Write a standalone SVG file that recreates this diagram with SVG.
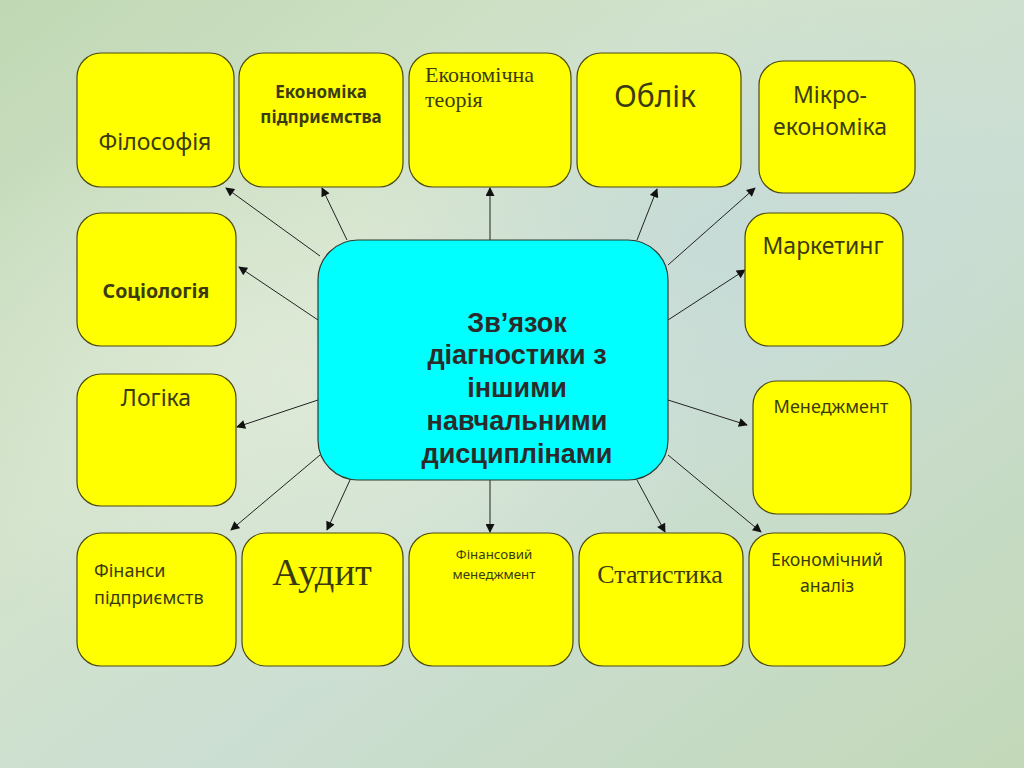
<svg xmlns="http://www.w3.org/2000/svg" width="1024" height="768" viewBox="0 0 1024 768">
<defs>
<linearGradient id="bg" x1="0" y1="0" x2="1" y2="1">
<stop offset="0" stop-color="#c0d8b4"/>
<stop offset="0.35" stop-color="#d3e3cb"/>
<stop offset="0.6" stop-color="#cbded2"/>
<stop offset="1" stop-color="#c2d8b8"/>
</linearGradient>
<radialGradient id="spot1" cx="0.3" cy="0.5" r="0.4">
<stop offset="0" stop-color="#e3eddc" stop-opacity="0.7"/>
<stop offset="1" stop-color="#e3eddc" stop-opacity="0"/>
</radialGradient>
<radialGradient id="spot2" cx="0.7" cy="0.3" r="0.35">
<stop offset="0" stop-color="#c2d9dd" stop-opacity="0.6"/>
<stop offset="1" stop-color="#c2d9dd" stop-opacity="0"/>
</radialGradient>
<marker id="arr" viewBox="0 0 10 10" refX="9" refY="5" markerWidth="10" markerHeight="9" markerUnits="userSpaceOnUse" orient="auto">
<path d="M0,0 L10,5 L0,10 z" fill="#111"/>
</marker>
<style>
.box{fill:#ffff00;stroke:#4a4a12;stroke-width:1.2}
.ctr{fill:#00ffff;stroke:#2f3a2f;stroke-width:1.2}
.t{fill:#3b3b10;font-family:"Noto Sans","Open Sans","DejaVu Sans",sans-serif}
.s{fill:#3b3b10;font-family:"Liberation Serif","DejaVu Serif",serif}
.b{font-weight:bold}
.c{text-anchor:middle}
.ct{fill:#2b2b2b;font-family:"Liberation Sans",Arial,sans-serif;font-weight:bold;font-size:27px;text-anchor:middle}
.ln{stroke:#222;stroke-width:1;marker-end:url(#arr);fill:none}
</style>
</defs>
<rect width="1024" height="768" fill="url(#bg)"/>
<rect width="1024" height="768" fill="url(#spot1)"/>
<rect width="1024" height="768" fill="url(#spot2)"/>

<g id="connectors">
<line class="ln" x1="320" y1="256" x2="226" y2="188"/>
<line class="ln" x1="347" y1="240" x2="322" y2="188"/>
<line class="ln" x1="490" y1="240" x2="490" y2="188"/>
<line class="ln" x1="637" y1="240" x2="657" y2="189"/>
<line class="ln" x1="668" y1="265" x2="755" y2="188"/>
<line class="ln" x1="318" y1="320" x2="239" y2="267"/>
<line class="ln" x1="668" y1="320" x2="745" y2="270"/>
<line class="ln" x1="318" y1="400" x2="237" y2="427"/>
<line class="ln" x1="668" y1="400" x2="747" y2="425"/>
<line class="ln" x1="320" y1="455" x2="231" y2="530"/>
<line class="ln" x1="350" y1="480" x2="327" y2="530"/>
<line class="ln" x1="490" y1="480" x2="490" y2="532"/>
<line class="ln" x1="637" y1="480" x2="665" y2="532"/>
<line class="ln" x1="668" y1="455" x2="761" y2="532"/>
</g>

<g id="center">
<rect class="ctr" x="318" y="240" width="350" height="240" rx="40"/>
<text class="ct" x="517" y="332">Зв’язок</text>
<text class="ct" x="517" y="364">діагностики з</text>
<text class="ct" x="517" y="397">іншими</text>
<text class="ct" x="517" y="430">навчальними</text>
<text class="ct" x="517" y="463">дисциплінами</text>
</g>

<g id="filosofiya">
<rect class="box" x="77" y="53" width="157" height="134" rx="24"/>
<text class="t c" x="155" y="150" font-size="23">Філософія</text>
</g>
<g id="ekonomika-pidpryiemstva">
<rect class="box" x="239" y="53" width="164" height="134" rx="24"/>
<text class="t b c" x="321" y="98" font-size="17">Економіка</text>
<text class="t b c" x="321" y="123" font-size="17">підприємства</text>
</g>
<g id="ekonomichna-teoriya">
<rect class="box" x="409" y="53" width="162" height="134" rx="24"/>
<text class="s" x="425" y="82" font-size="22">Економічна</text>
<text class="s" x="425" y="107" font-size="22">теорія</text>
</g>
<g id="oblik">
<rect class="box" x="577" y="53" width="164" height="134" rx="24"/>
<text class="t c" x="655" y="107" font-size="30">Облік</text>
</g>
<g id="mikroekonomika">
<rect class="box" x="759" y="61" width="156" height="132" rx="24"/>
<text class="t c" x="830" y="103" font-size="23">Мікро-</text>
<text class="t c" x="830" y="135" font-size="23">економіка</text>
</g>
<g id="sotsiolohiya">
<rect class="box" x="77" y="213" width="159" height="133" rx="24"/>
<text class="t b c" x="156" y="298" font-size="19.5">Соціологія</text>
</g>
<g id="lohika">
<rect class="box" x="77" y="374" width="159" height="132" rx="24"/>
<text class="t c" x="156" y="406" font-size="23">Логіка</text>
</g>
<g id="marketynh">
<rect class="box" x="745" y="213" width="158" height="133" rx="24"/>
<text class="t c" x="823" y="254" font-size="23">Маркетинг</text>
</g>
<g id="menedzhment">
<rect class="box" x="753" y="381" width="158" height="133" rx="24"/>
<text class="t c" x="831" y="413" font-size="18">Менеджмент</text>
</g>
<g id="finansy-pidpryiemstv">
<rect class="box" x="77" y="533" width="159" height="133" rx="24"/>
<text class="t" x="94" y="577" font-size="18">Фінанси</text>
<text class="t" x="94" y="604" font-size="18">підприємств</text>
</g>
<g id="audyt">
<rect class="box" x="242" y="533" width="161" height="133" rx="24"/>
<text class="s c" x="322" y="585" font-size="38.5">Аудит</text>
</g>
<g id="finansovyi-menedzhment">
<rect class="box" x="409" y="533" width="164" height="133" rx="24"/>
<text class="t c" x="494" y="559" font-size="13.3">Фінансовий</text>
<text class="t c" x="494" y="579" font-size="13.3">менеджмент</text>
</g>
<g id="statystyka">
<rect class="box" x="579" y="533" width="164" height="133" rx="24"/>
<text class="s c" x="660" y="583" font-size="26">Статистика</text>
</g>
<g id="ekonomichnyi-analiz">
<rect class="box" x="749" y="533" width="156" height="133" rx="24"/>
<text class="t c" x="827" y="566" font-size="17.7">Економічний</text>
<text class="t c" x="827" y="592" font-size="17.7">аналіз</text>
</g>
</svg>
